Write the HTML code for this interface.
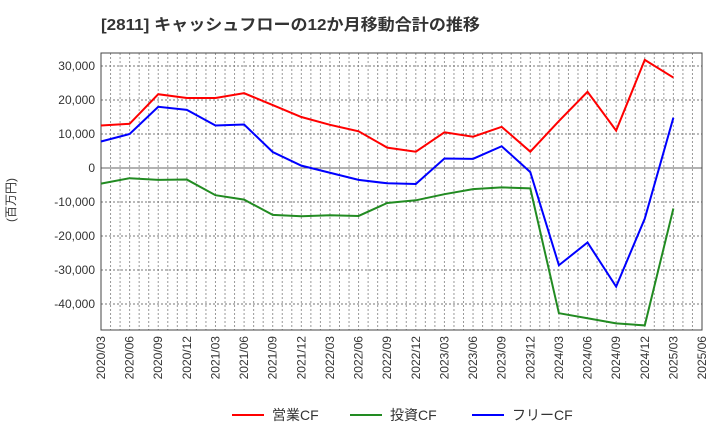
<!DOCTYPE html>
<html><head><meta charset="utf-8"><style>
body{margin:0;background:#fff;width:720px;height:440px;overflow:hidden;font-family:"Liberation Sans","Noto Sans CJK JP",sans-serif}
</style></head><body>
<svg id="chart" width="720" height="440" xmlns="http://www.w3.org/2000/svg" font-family="Liberation Sans, Noto Sans CJK JP, sans-serif">
<text x="101" y="30" font-size="16" font-weight="bold" fill="#333" textLength="379" lengthAdjust="spacingAndGlyphs">[2811]  キャッシュフローの12か月移動合計の推移</text>
<text transform="translate(15,200) rotate(-90)" font-size="12" fill="#333" text-anchor="middle">(百万円)</text>
<g id="grid"></g><g id="axes"></g><g id="series"></g><g id="legend"></g>
</svg>
<script>
const categories=["2020/03","2020/06","2020/09","2020/12","2021/03","2021/06","2021/09","2021/12","2022/03","2022/06","2022/09","2022/12","2023/03","2023/06","2023/09","2023/12","2024/03","2024/06","2024/09","2024/12","2025/03","2025/06"];
const operatingCF=[12500,13000,21700,20600,20600,22000,18500,15000,12700,10800,6000,4800,10500,9200,12100,4800,13800,22400,11000,31800,26600];
const investingCF=[-4600,-3000,-3500,-3400,-8000,-9300,-13800,-14200,-13900,-14100,-10300,-9500,-7700,-6200,-5700,-6000,-42700,-44200,-45700,-46300,-11900];
const freeCF=[7800,10000,18000,17100,12500,12800,4700,700,-1400,-3500,-4500,-4700,2800,2700,6400,-1200,-28600,-21900,-34900,-14900,14800];
const yTicks=[30000,20000,10000,0,-10000,-20000,-30000,-40000];
const names=["営業CF","投資CF","フリーCF"];
const NS="http://www.w3.org/2000/svg";
const L=101,R=702,T=53,B=330;
const x=i=>L+i*(R-L)/(categories.length-1);
const y=v=>168-v*102/30000;
function mk(tag,attrs,parent){const e=document.createElementNS(NS,tag);for(const k in attrs)e.setAttribute(k,attrs[k]);parent.appendChild(e);return e;}
const grid=document.getElementById('grid'),axes=document.getElementById('axes'),series=document.getElementById('series'),legend=document.getElementById('legend');
for(let m=1;m<(categories.length-1)*3;m++){const xx=L+m*(R-L)/((categories.length-1)*3);
const g=mk('line',{x1:xx,x2:xx,y1:T,y2:B,stroke:'#999','stroke-dasharray':'2,2','stroke-width':1},grid);

}
yTicks.forEach(v=>{const yy=y(v);
const g=mk('line',{x1:L,x2:R,y1:yy,y2:yy,stroke:v===0?'#666':'#777','stroke-dasharray':v===0?'':'2,2','stroke-width':1},grid);


const t=mk('text',{x:L-6,y:yy+4,'text-anchor':'end','font-size':12,fill:'#333'},axes);


t.textContent=v.toLocaleString('en-US');});
categories.forEach((c,i)=>{const t=mk('text',{transform:`translate(${x(i)+4},${B+6}) rotate(-90)`,'text-anchor':'end','font-size':12,fill:'#333'},axes);


t.textContent=c;});
const fr=mk('rect',{x:L,y:T,width:R-L,height:B-T,fill:'none',stroke:'#444','stroke-width':1},axes);


const data=[operatingCF,investingCF,freeCF],colors=['#ff0000','#228b22','#0000ff'],ids=['operating-cf-line','investing-cf-line','free-cf-line'];
data.forEach((d,s)=>{const p=mk('polyline',{points:d.map((v,i)=>x(i)+','+y(v)).join(' '),fill:'none',stroke:colors[s],'stroke-width':2},series);

});
const lx=[232,350,472];
names.forEach((n,s)=>{const g=mk('g',{},legend);


mk('line',{x1:lx[s],x2:lx[s]+32,y1:415,y2:415,stroke:colors[s],'stroke-width':2},g);
const t=mk('text',{x:lx[s]+40,y:420,'font-size':14,fill:'#333'},g);t.textContent=n;});
</script>
</body></html>
